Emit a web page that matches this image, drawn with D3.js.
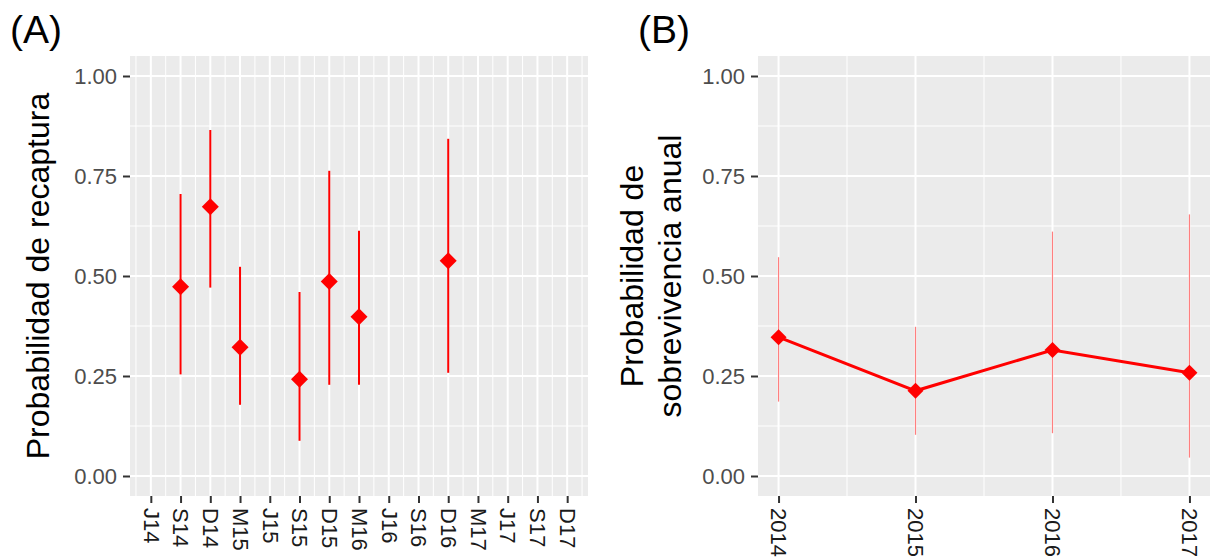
<!DOCTYPE html>
<html>
<head>
<meta charset="utf-8">
<script src="https://cdn.jsdelivr.net/npm/d3@7"></script>
<style>
  body { margin: 0; background: #fff; }
  svg { display: block; font-family: 'Liberation Sans', Arial, sans-serif; }
</style>
</head>
<body>
<div id="chart"></div>
<script>
// panel A: recapture probability per sampling occasion
const axisLabelsA = ['J14', 'S14', 'D14', 'M15', 'J15', 'S15', 'D15', 'M16', 'J16', 'S16', 'D16', 'M17', 'J17', 'S17', 'D17']
const occasionsA = ['S14', 'D14', 'M15', 'S15', 'D15', 'M16', 'D16']
const recapEst = [0.473, 0.673, 0.322, 0.242, 0.486, 0.398, 0.538]
const recapLow = [0.254, 0.471, 0.178, 0.088, 0.228, 0.228, 0.258]
const recapHigh = [0.705, 0.865, 0.523, 0.460, 0.763, 0.613, 0.843]

// panel B: annual survival
const years = [2014, 2015, 2016, 2017]
const survEst = [0.347, 0.213, 0.315, 0.258]
const survLow = [0.186, 0.103, 0.107, 0.046]
const survHigh = [0.547, 0.373, 0.611, 0.654]

const yTicks = [0, 0.25, 0.5, 0.75, 1]
const yMinor = [0.125, 0.375, 0.625, 0.875]

const W = 1210
const H = 558
const panelTop = 56
const panelBottom = 496

const svg = d3.select('#chart').append('svg')
  .attr('width', W)
  .attr('height', H)

const yScale = d3.scaleLinear().domain([-0.05, 1.05]).range([panelBottom, panelTop])

const diamond = r => `M0,${-r}L${r},0L0,${r}L${-r},0Z`

const drawPanel = (x0, x1, xScale, majors, minors) => {
  const g = svg.append('g')
  g.append('rect')
    .attr('x', x0).attr('y', panelTop)
    .attr('width', x1 - x0).attr('height', panelBottom - panelTop)
    .attr('fill', '#EBEBEB')
  g.selectAll('.hmin').data(yMinor).enter().append('line')
    .attr('x1', x0).attr('x2', x1)
    .attr('y1', d => yScale(d)).attr('y2', d => yScale(d))
    .attr('stroke', '#fff').attr('stroke-width', 1)
  g.selectAll('.vmin').data(minors).enter().append('line')
    .attr('y1', panelTop).attr('y2', panelBottom)
    .attr('x1', d => xScale(d)).attr('x2', d => xScale(d))
    .attr('stroke', '#fff').attr('stroke-width', 1)
  g.selectAll('.hmaj').data(yTicks).enter().append('line')
    .attr('x1', x0).attr('x2', x1)
    .attr('y1', d => yScale(d)).attr('y2', d => yScale(d))
    .attr('stroke', '#fff').attr('stroke-width', 2)
  g.selectAll('.vmaj').data(majors).enter().append('line')
    .attr('y1', panelTop).attr('y2', panelBottom)
    .attr('x1', d => xScale(d)).attr('x2', d => xScale(d))
    .attr('stroke', '#fff').attr('stroke-width', 2)

  const yAxis = svg.append('g')
    .attr('transform', `translate(${x0},0)`)
    .call(d3.axisLeft(yScale).tickValues(yTicks).tickSize(7).tickPadding(6).tickFormat(d3.format('.2f')))
  yAxis.select('.domain').remove()
  yAxis.selectAll('line').attr('stroke', '#333').attr('stroke-width', 2)
  yAxis.selectAll('text')
    .attr('fill', '#4D4D4D')
    .attr('font-size', 22)
    .attr('font-family', "'Liberation Sans', Arial, sans-serif")
  return g
}

const styleXAxis = (axisG, size) => {
  axisG.select('.domain').remove()
  axisG.selectAll('line').attr('stroke', '#333').attr('stroke-width', 2)
  axisG.selectAll('text')
    .attr('fill', '#1a1a1a')
    .attr('font-size', size)
    .attr('font-family', "'Liberation Sans', Arial, sans-serif")
    .attr('text-anchor', 'start')
    .attr('dy', '0.35em')
    .attr('transform', 'rotate(90)')
    .attr('y', 0)
    .attr('x', 12)
}

// ---------- panel A ----------
const ax0 = 130
const ax1 = 588
const xA = d3.scaleLinear().domain([-0.7, 14.7]).range([ax0, ax1])
const majorsA = d3.range(axisLabelsA.length)
const minorsA = d3.range(-0.5, 15, 1)
drawPanel(ax0, ax1, xA, majorsA, minorsA)

const xAxisA = svg.append('g')
  .attr('transform', `translate(0,${panelBottom})`)
  .call(d3.axisBottom(xA).tickValues(majorsA).tickSize(7).tickFormat(i => axisLabelsA[i]))
styleXAxis(xAxisA, 22)

const dataA = occasionsA.map((o, i) => ({
  x: axisLabelsA.indexOf(o), est: recapEst[i], low: recapLow[i], high: recapHigh[i]
}))

svg.append('g').selectAll('line').data(dataA).enter().append('line')
  .attr('x1', d => xA(d.x)).attr('x2', d => xA(d.x))
  .attr('y1', d => yScale(d.low)).attr('y2', d => yScale(d.high))
  .attr('stroke', '#FF0000').attr('stroke-width', 2)

svg.append('g').selectAll('path').data(dataA).enter().append('path')
  .attr('d', diamond(8.5))
  .attr('transform', d => `translate(${xA(d.x)},${yScale(d.est)})`)
  .attr('fill', '#FF0000')

svg.append('text')
  .attr('transform', `translate(49,${(panelTop + panelBottom) / 2}) rotate(-90)`)
  .attr('text-anchor', 'middle')
  .attr('font-size', 32)
  .attr('fill', '#000')
  .text('Probabilidad de recaptura')

svg.append('text')
  .attr('x', 10).attr('y', 43)
  .attr('font-size', 39)
  .attr('fill', '#000')
  .text('(A)')

// ---------- panel B ----------
const bx0 = 758
const bx1 = 1210
const xB = d3.scaleLinear().domain([2013.85, 2017.15]).range([bx0, bx1])
const minorsB = [2014.5, 2015.5, 2016.5]
drawPanel(bx0, bx1, xB, years, minorsB)

const xAxisB = svg.append('g')
  .attr('transform', `translate(0,${panelBottom})`)
  .call(d3.axisBottom(xB).tickValues(years).tickSize(7).tickFormat(d3.format('d')))
styleXAxis(xAxisB, 22)

const dataB = years.map((y, i) => ({ x: y, est: survEst[i], low: survLow[i], high: survHigh[i] }))

svg.append('g').selectAll('line').data(dataB).enter().append('line')
  .attr('x1', d => xB(d.x)).attr('x2', d => xB(d.x))
  .attr('y1', d => yScale(d.low)).attr('y2', d => yScale(d.high))
  .attr('stroke', '#FF0000').attr('stroke-opacity', 0.5).attr('stroke-width', 1.2)

svg.append('path')
  .datum(dataB)
  .attr('d', d3.line().x(d => xB(d.x)).y(d => yScale(d.est)))
  .attr('fill', 'none')
  .attr('stroke', '#FF0000')
  .attr('stroke-width', 3)

svg.append('g').selectAll('path').data(dataB).enter().append('path')
  .attr('d', diamond(8))
  .attr('transform', d => `translate(${xB(d.x)},${yScale(d.est)})`)
  .attr('fill', '#FF0000')

svg.append('text')
  .attr('transform', `translate(0,${(panelTop + panelBottom) / 2}) rotate(-90)`)
  .attr('text-anchor', 'middle')
  .attr('font-size', 32)
  .attr('fill', '#000')
  .call(t => {
    t.append('tspan').attr('x', 0).attr('y', 643).text('Probabilidad de')
    t.append('tspan').attr('x', 0).attr('y', 681).text('sobrevivencia anual')
  })

svg.append('text')
  .attr('x', 638).attr('y', 43)
  .attr('font-size', 39)
  .attr('fill', '#000')
  .text('(B)')
</script>
</body>
</html>
